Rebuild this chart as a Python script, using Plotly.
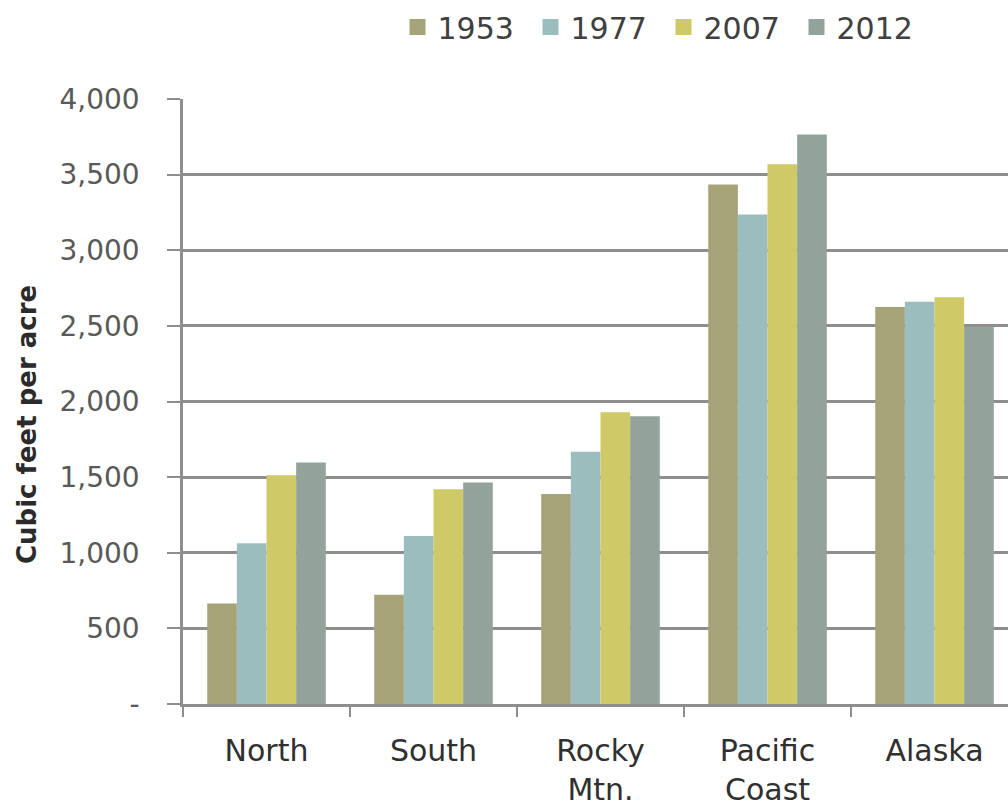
import plotly.graph_objects as go

# Regions and survey years
regions = ["North", "South", "Rocky<br>Mtn.", "Pacific<br>Coast", "Alaska"]
years = ["1953", "1977", "2007", "2012"]

# Average volume, cubic feet per acre
vol_1953 = [664, 722, 1389, 3434, 2625]
vol_1977 = [1062, 1111, 1667, 3236, 2660]
vol_2007 = [1513, 1420, 1929, 3568, 2690]
vol_2012 = [1596, 1464, 1903, 3766, 2495]

y_tickvals = [0, 500, 1000, 1500, 2000, 2500, 3000, 3500, 4000]
y_ticktext = ["-", "500", "1,000", "1,500", "2,000", "2,500", "3,000", "3,500", "4,000"]

series = [vol_1953, vol_1977, vol_2007, vol_2012]
colors = ["#A6A378", "#9BBDBE", "#CFC968", "#92A39C"]

GRID = "#8E8E8E"
W, H = 1008, 808
M_L, M_R, M_T, M_B = 183, 0, 99, 104

fig = go.Figure()

for name, vals, col in zip(years, series, colors):
    fig.add_trace(go.Bar(
        x=regions, y=vals, name=name,
        marker=dict(color=col, line=dict(width=0)),
        showlegend=False,
    ))

# legend entries with larger square swatches
for name, col in zip(years, colors):
    fig.add_trace(go.Scatter(
        x=[None], y=[None], mode="markers", name=name,
        marker=dict(symbol="square", size=19, color=col),
        showlegend=True,
    ))

fig.update_layout(
    width=W, height=H,
    margin=dict(l=M_L, r=M_R, t=M_T, b=M_B, pad=0),
    paper_bgcolor="white", plot_bgcolor="white",
    barmode="group", bargap=0.29, bargroupgap=0,
    font=dict(family="DejaVu Sans", color="#404040"),
    legend=dict(
        orientation="h", x=0.26, xanchor="left", y=1.162, yanchor="top",
        font=dict(size=30, color="#404040", family="DejaVu Sans"),
        itemwidth=30, entrywidth=88, entrywidthmode="pixels",
        bgcolor="rgba(0,0,0,0)", traceorder="normal",
    ),
    xaxis=dict(
        type="category", range=[-0.5, 4.44],
        showline=True, linecolor=GRID, linewidth=2.5,
        ticks="outside", tickson="boundaries", ticklen=10, tickwidth=2, tickcolor=GRID,
        tickfont=dict(size=30, color="#303030", family="DejaVu Sans"),
        ticklabelstandoff=18,
        showgrid=False, zeroline=False, fixedrange=True,
    ),
    yaxis=dict(
        range=[0, 4000], tickmode="array", tickvals=y_tickvals, ticktext=y_ticktext,
        showline=True, linecolor=GRID, linewidth=2.5,
        ticks="outside", ticklen=13, tickwidth=2, tickcolor=GRID,
        tickfont=dict(size=28, color="#595959", family="DejaVu Sans"),
        ticklabelstandoff=22,
        showgrid=True, gridcolor=GRID, gridwidth=2.5,
        zeroline=False, fixedrange=True,
    ),
    annotations=[dict(
        text="<b>Cubic feet per acre</b>", textangle=-90,
        xref="paper", yref="paper", x=(27 - M_L) / (W - M_L - M_R),
        y=(H - M_B - 425) / (H - M_T - M_B),
        xanchor="center", yanchor="middle", showarrow=False,
        font=dict(size=26, color="#2B2B2B", family="DejaVu Sans"),
    )],
)

fig.write_html("out.html")
